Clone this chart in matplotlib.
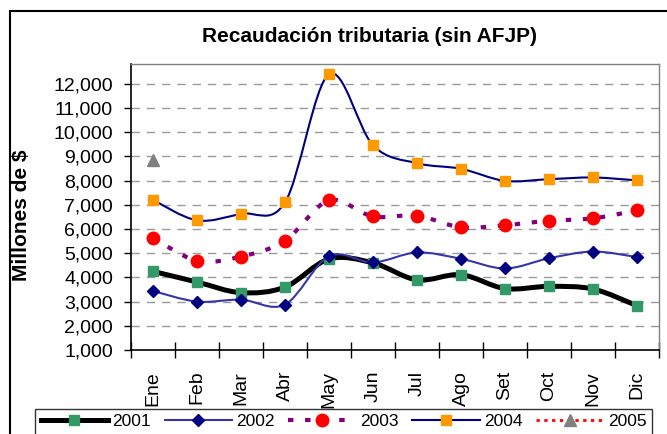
import numpy as np
import matplotlib.pyplot as plt
from matplotlib.path import Path
from matplotlib.patches import PathPatch, Rectangle
from matplotlib.lines import Line2D

plt.rcParams['font.family'] = ['Liberation Sans', 'DejaVu Sans']

meses = ['Ene', 'Feb', 'Mar', 'Abr', 'May', 'Jun', 'Jul', 'Ago', 'Set', 'Oct', 'Nov', 'Dic']

y2001 = [4250, 3810, 3370, 3600, 4760, 4600, 3900, 4110, 3540, 3630, 3520, 2830]
y2002 = [3440, 3000, 3080, 2880, 4880, 4620, 5030, 4770, 4370, 4790, 5070, 4840]
y2003 = [5630, 4690, 4860, 5520, 7180, 6520, 6550, 6070, 6160, 6340, 6440, 6770]
y2004 = [7200, 6360, 6630, 7100, 12400, 9460, 8720, 8490, 7990, 8060, 8130, 8010]
y2005 = [8850]

yticks = list(range(1000, 12001, 1000))


def smooth_path(xs, ys):
    # Excel-like smoothed line: cubic bezier through each pair of points
    pts = np.column_stack([xs, ys]).astype(float)
    n = len(pts)
    verts = [pts[0]]
    codes = [Path.MOVETO]
    for i in range(n - 1):
        p0 = pts[max(i - 1, 0)]
        p1 = pts[i]
        p2 = pts[i + 1]
        p3 = pts[min(i + 2, n - 1)]
        c1 = p1 + (p2 - p0) / 6.0
        c2 = p2 - (p3 - p1) / 6.0
        verts += [c1, c2, p2]
        codes += [Path.CURVE4] * 3
    return Path(verts, codes)


fig = plt.figure(figsize=(6.67, 4.34), dpi=100)
ax = fig.add_axes([131 / 667, 1 - 350 / 434, 528 / 667, 286 / 434])

ax.set_xlim(-0.5, 11.5)
ax.set_ylim(1000, 12820)

for v in yticks[1:]:
    ax.axhline(v, color='#9a9a9a', lw=1.0, ls=(0, (6, 5)), zorder=0)

x = np.arange(len(meses))

series = [
    (y2001, dict(color='black', lw=3.6, ls='-'), dict(marker='s', ms=7, mfc='#339966', mec='#339966')),
    (y2002, dict(color='#3535A8', lw=1.5, ls='-'), dict(marker='D', ms=6.5, mfc='#000080', mec='#000080')),
    (y2003, dict(color='#800080', lw=3.0, ls=(0, (1.3, 2.8))), dict(marker='o', ms=9, mfc='#FF0000', mec='#FF0000')),
    (y2004, dict(color='#000080', lw=1.5, ls='-'), dict(marker='s', ms=7.5, mfc='#FF9900', mec='#FF9900')),
    (y2005, dict(color='#FF0000', lw=2.0, ls=(0, (1.2, 1.6))), dict(marker='^', ms=8.5, mfc='#808080', mec='#808080')),
]
labels = ['2001', '2002', '2003', '2004', '2005']

handles = []
for k, (vals, lstyle, mstyle) in enumerate(series):
    xs = x[:len(vals)]
    if len(vals) > 1:
        patch = PathPatch(smooth_path(xs, vals), facecolor='none', edgecolor=lstyle['color'],
                          lw=lstyle['lw'], ls=lstyle['ls'], capstyle='butt', zorder=2 + k)
        ax.add_patch(patch)
    ax.plot(xs, vals, ls='none', zorder=2.5 + k, **mstyle)
    handles.append(Line2D([], [], color=lstyle['color'], lw=lstyle['lw'], ls=lstyle['ls'], **mstyle))

ax.set_yticks(yticks)
ax.set_yticklabels([f'{v:,}' for v in yticks], fontsize=14)
ax.tick_params(axis='y', direction='out', length=5, width=1, pad=8)

ax.set_xticks(x)
ax.set_xticklabels(meses, rotation=90, fontsize=14)
ax.tick_params(axis='x', which='major', length=0, pad=15)
ax.set_xticks(np.arange(-0.5, 12, 1), minor=True)
ax.tick_params(axis='x', which='minor', direction='inout', length=12, width=1)

for s in ['top', 'right']:
    ax.spines[s].set_color('#808080')
    ax.spines[s].set_linewidth(1.0)
for s in ['left', 'bottom']:
    ax.spines[s].set_color('black')
    ax.spines[s].set_linewidth(1.2)

ax.set_ylabel('Millones de $', fontsize=15, fontweight='bold')
ax.yaxis.set_label_coords((31 - 131) / 528, (350 - 215) / 286)

fig.text(370 / 667, 1 - 36 / 434, 'Recaudación tributaria (sin AFJP)', fontsize=15,
         fontweight='bold', ha='center', va='center')

leg = fig.legend(handles, labels, loc='upper center', bbox_to_anchor=(343.5 / 667, 1 - 409 / 434),
                 bbox_transform=fig.transFigure, ncol=5, fontsize=12.5, frameon=True, fancybox=False,
                 handlelength=3.9, handletextpad=0.22, columnspacing=0.8, borderaxespad=0,
                 borderpad=0.3, numpoints=1)
leg.get_frame().set_edgecolor('black')
leg.get_frame().set_linewidth(1.0)

fig.patches.append(Rectangle((10 / 667, -0.1), 1.0, 1.1 - 11 / 434, transform=fig.transFigure,
                             fill=False, edgecolor='black', lw=1.5, zorder=0))

fig.savefig('out.png', dpi=100)
